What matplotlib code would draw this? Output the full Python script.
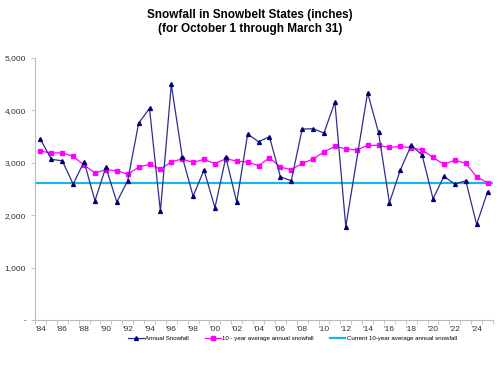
import numpy as np
import matplotlib.pyplot as plt
from matplotlib.ticker import FuncFormatter

plt.rcParams['font.family'] = ['Liberation Sans', 'DejaVu Sans']

years = list(range(1984, 2026))

# annual snowfall (2013 has no marker in the source, line runs straight through)
annual = [3450, 3067, 3040, 2595, 3025, 2277, 2920, 2252, 2660, 3753,
          4040, 2074, 4497, 3117, 2366, 2863, 2144, 3104, 2252, 3550,
          3403, 3498, 2735, 2659, 3645, 3651, 3569, 4160, 1781, None,
          4340, 3582, 2239, 2863, 3334, 3149, 2315, 2742, 2595, 2659,
          1826, 2449]

ten_year = [3225, 3187, 3193, 3124, 2958, 2805, 2869, 2850, 2786, 2913,
            2977, 2875, 3021, 3073, 3009, 3066, 2983, 3079, 3034, 3015,
            2945, 3098, 2920, 2869, 2990, 3073, 3212, 3314, 3270, 3244,
            3334, 3334, 3295, 3314, 3289, 3244, 3104, 2971, 3053, 2990,
            2735, 2620]

current_avg = 2620

fig = plt.figure(figsize=(5.0, 3.65), dpi=100)
ax = fig.add_axes([0.07, 0.123, 0.916, 0.718])

ax.axhline(current_avg, color='#19b5ec', lw=1.6, zorder=1,
           label='Current 10-year average annual snowfall')

ax.plot(years, ten_year, color='#ff00ff', lw=0.9, marker='s', ms=2.8,
        zorder=2, label='10 - year average annual snowfall')

yr_a = [y for y, v in zip(years, annual) if v is not None]
val_a = [v for v in annual if v is not None]
ax.plot(yr_a, val_a, color='#2e2e8f', lw=0.9, marker='^', ms=2.8,
        mfc='#000070', mec='#000070', zorder=3, label='Annual Snowfall')

ax.set_xlim(1983.5, 2025.5)
ax.set_ylim(0, 5000)
ax.set_yticks(range(0, 5001, 1000))
ax.yaxis.set_major_formatter(FuncFormatter(lambda v, p: '-' if v == 0 else f'{int(v):,}'))
ax.set_xticks(range(1984, 2025, 2))
ax.set_xticklabels(["'%02d" % (y % 100) for y in range(1984, 2025, 2)])
ax.set_xticks(np.arange(1983.5, 2025.6, 1), minor=True)

for s in ['top', 'right']:
    ax.spines[s].set_visible(False)
for s in ['left', 'bottom']:
    ax.spines[s].set_color('#bbbbbb')
    ax.spines[s].set_linewidth(0.8)
ax.tick_params(axis='both', which='major', labelsize=6, colors='#bbbbbb',
               labelcolor='#333333', length=3, width=0.6)
ax.tick_params(axis='x', which='major', length=0, pad=4)
ax.tick_params(axis='x', which='minor', length=3, width=0.6, colors='#bbbbbb')

fig.suptitle('Snowfall in Snowbelt States (inches)\n(for October 1 through March 31)',
             fontsize=8.5, fontweight='bold', y=0.975)

h, l = ax.get_legend_handles_labels()
order = [2, 1, 0]
fig.legend([h[i] for i in order], [l[i] for i in order], loc='center',
           bbox_to_anchor=(0.585, 0.073), ncol=3, fontsize=4.4, frameon=False,
           handlelength=2.6, columnspacing=2.6, handletextpad=0.2)

fig.savefig('out.png', dpi=100)
